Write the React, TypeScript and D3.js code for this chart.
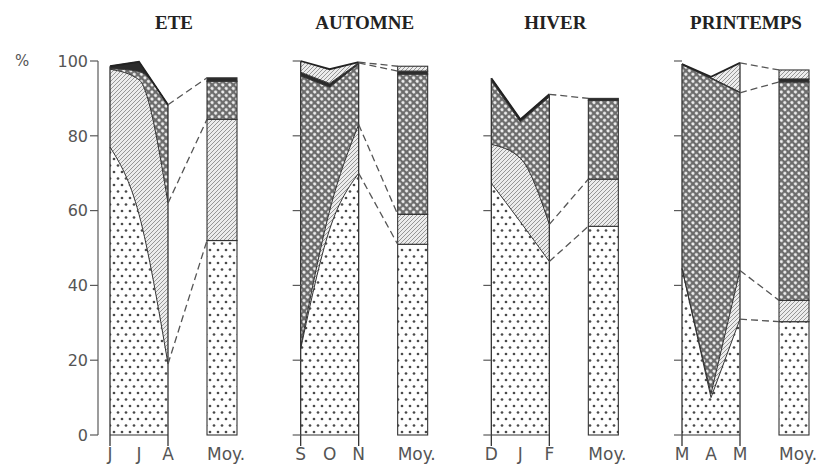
import * as d3 from "d3";

const seasons = ["ETE", "AUTOMNE", "HIVER", "PRINTEMPS"];
const monthLabels = [["J", "J", "A"], ["S", "O", "N"], ["D", "J", "F"], ["M", "A", "M"]];
const moyLabel = "Moy.";
const layerKeys = ["dots", "hatch", "cross", "dark", "top"];

// share of each layer in %, per season: the three months, then the "Moy." column
const dots = [[77, 59, 19, 52], [23, 55, 70, 51], [67.3, 57, 46.4, 55.8], [44.5, 10, 31, 30.3]];
const hatch = [[20.8, 36, 43, 32.4], [0.5, 5, 13, 8], [10.4, 17, 9.9, 12.6], [0, 1, 13, 5.7]];
const cross = [[0.2, 2.2, 26, 10.2], [72.5, 33, 16.2, 37.5], [17, 9.7, 34.1, 21.1], [54.5, 84.3, 47.5, 58.4]];
const dark = [[0.6, 2.6, 0.3, 0.9], [1, 1, 0.3, 0.8], [0.7, 0.7, 0.7, 0.5], [0.2, 0.2, 0.2, 0.8]];
const topBand = [[0, 0, 0, 0], [3, 3.8, 0.2, 1.3], [0, 0, 0, 0], [0, 0.3, 7.8, 2.4]];

const yTicks = [0, 20, 40, 60, 80, 100];
// stacked boundaries joined to the Moy. column by dashed lines
const links = [[0, 1, 3], [0, 1, 3, 4], [0, 1, 3], [0, 1, 2, 4]];

const W = 833;
const H = 466;
const y = d3.scaleLinear().domain([0, 100]).range([435, 61]);
const panelX = d3.scalePoint<string>().domain(seasons).range([110, 682]);
const monthX = d3.scalePoint<number>().domain([0, 1, 2]).range([0, 58]);
const moyX = 97;
const moyW = 30;
const ink = "#333";
const grey = "#5a5a5a";

const fills: Record<string, string> = {
  dots: "url(#p-dots)",
  hatch: "url(#p-hatch)",
  cross: "url(#p-cross)",
  dark: "#2b2b2b",
  top: "url(#p-hatch)",
};

// smooth where the boundary keeps one direction, sharp corners for V shapes
const pickCurve = (v: number[]) =>
  (v[1] - v[0]) * (v[2] - v[1]) > 0 ? d3.curveMonotoneX : d3.curveLinear;

function Panel({ si }: { si: number }) {
  const x0 = panelX(seasons[si])!;
  const rows = [0, 1, 2, 3].map((i) => ({
    dots: dots[si][i],
    hatch: hatch[si][i],
    cross: cross[si][i],
    dark: dark[si][i],
    top: topBand[si][i],
  }));
  const series = d3.stack<any>().keys(layerKeys)(rows);
  const bound = (k: number) => [0, 1, 2].map((i) => (k < 0 ? 0 : series[k][i][1]));
  const linePath = (vals: number[], reverse = false) => {
    const pts = [0, 1, 2].map((i) => [x0 + monthX(i)!, y(vals[i])] as [number, number]);
    return d3.line().curve(pickCurve(vals))(reverse ? pts.slice().reverse() : pts)!;
  };
  const total = bound(4);
  const maxTotal = d3.max(total)!;
  const xr = x0 + monthX(2)!;

  return (
    <g>
      <text x={x0 + 64} y={29} textAnchor="middle" fontFamily="Liberation Serif" fontWeight="bold" fontSize={19} fill="#222">
        {seasons[si]}
      </text>

      {/* stacked layers over the three months */}
      {layerKeys.map((key, k) => {
        const up = bound(k);
        const lo = bound(k - 1);
        if (d3.max(up.map((v, i) => v - lo[i]))! <= 0) return null;
        const d = linePath(up) + linePath(lo, true).replace(/^M/, "L") + "Z";
        return <path key={key} d={d} fill={fills[key]} stroke="none" />;
      })}
      {layerKeys.map((key, k) => (
        <path
          key={"b" + key}
          d={linePath(bound(k))}
          fill="none"
          stroke={k === 4 ? "#222" : ink}
          strokeWidth={k === 4 ? 1.8 : 1}
        />
      ))}

      {/* panel frame */}
      <line x1={x0} x2={xr} y1={y(0)} y2={y(0)} stroke={ink} strokeWidth={1.2} />
      <line x1={x0} x2={x0} y1={y(0) + 11} y2={y(total[0])} stroke={ink} strokeWidth={1.3} />
      <line x1={xr} x2={xr} y1={y(0) + 11} y2={y(total[2])} stroke={ink} strokeWidth={1.3} />

      {/* y axis */}
      {si === 0 ? (
        <g>
          <line x1={x0 - 12} x2={x0 - 12} y1={y(0)} y2={y(100)} stroke={grey} strokeWidth={1.2} />
          {yTicks.map((t) => (
            <g key={t}>
              <line x1={x0 - 20} x2={x0 - 12} y1={y(t)} y2={y(t)} stroke={grey} strokeWidth={1.2} />
              <text x={x0 - 22} y={y(t)} dy="0.36em" textAnchor="end" fontFamily="DejaVu Sans" fontSize={16} fill="#555">
                {t}
              </text>
            </g>
          ))}
          <text x={15} y={66} fontFamily="DejaVu Sans" fontSize={15} fill="#555">%</text>
        </g>
      ) : (
        yTicks
          .filter((t) => t <= maxTotal + 1)
          .map((t) => (
            <line key={t} x1={x0 - 8} x2={x0} y1={y(t)} y2={y(t)} stroke={grey} strokeWidth={1.2} />
          ))
      )}

      {/* Moy. column */}
      {layerKeys.map((key, k) => {
        const [a, b] = series[k][3];
        if (b - a <= 0) return null;
        return (
          <rect
            key={"m" + key}
            x={x0 + moyX}
            width={moyW}
            y={y(b)}
            height={y(a) - y(b)}
            fill={fills[key]}
            stroke={ink}
            strokeWidth={1.1}
          />
        );
      })}

      {/* dashed joins */}
      {links[si].map((k) => (
        <line
          key={"l" + k}
          x1={xr}
          y1={y(series[k][2][1])}
          x2={x0 + moyX}
          y2={y(series[k][3][1])}
          stroke="#555"
          strokeWidth={1.3}
          strokeDasharray="7 4"
        />
      ))}

      {monthLabels[si].map((m, i) => (
        <text key={i} x={x0 + monthX(i)!} y={460} textAnchor="middle" fontFamily="DejaVu Sans" fontSize={17} fill="#555">
          {m}
        </text>
      ))}
      <text x={x0 + moyX} y={460} fontFamily="DejaVu Sans" fontSize={17} fill="#555">
        {moyLabel}
      </text>
    </g>
  );
}

export default function App() {
  return (
    <svg width={W} height={H} style={{ position: "absolute", left: 0, top: 0, background: "#fff" }}>
      <defs>
        <pattern id="p-dots" width="8" height="13" patternUnits="userSpaceOnUse">
          <rect width="8" height="13" fill="#fff" />
          <circle cx="2" cy="3" r="1.35" fill="#4a4a4a" />
          <circle cx="6" cy="9.5" r="1.35" fill="#4a4a4a" />
        </pattern>
        <pattern id="p-hatch" width="4" height="4" patternUnits="userSpaceOnUse">
          <rect width="4" height="4" fill="#ececec" />
          <path d="M-1,1 l2,-2 M0,4 l4,-4 M3,5 l2,-2" stroke="#808080" strokeWidth="0.8" />
        </pattern>
        <pattern id="p-cross" width="5" height="5" patternUnits="userSpaceOnUse" patternTransform="rotate(45)">
          <rect width="5" height="5" fill="#6c6c6c" />
          <circle cx="2.5" cy="2.5" r="1.6" fill="#f4f4f4" />
        </pattern>
      </defs>
      {seasons.map((s, si) => (
        <Panel key={s} si={si} />
      ))}
    </svg>
  );
}
